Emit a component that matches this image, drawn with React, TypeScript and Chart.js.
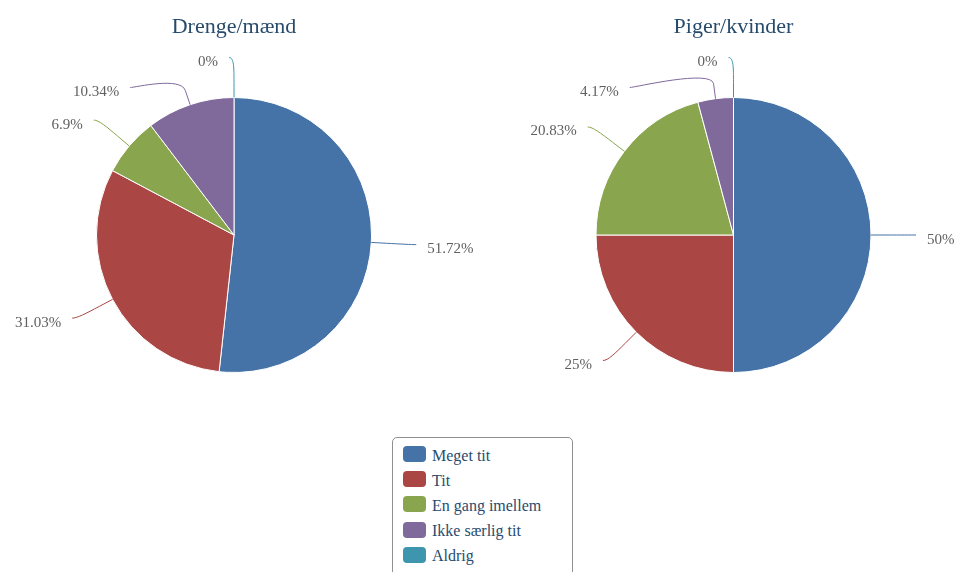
import React, { useEffect, useRef } from "react";
import { Chart, registerables } from "chart.js";

Chart.register(...registerables);

const categories = ["Meget tit", "Tit", "En gang imellem", "Ikke særlig tit", "Aldrig"];
const colors = ["#4572A7", "#AA4643", "#89A54E", "#80699B", "#3D96AE"];
const boysValues = [51.72, 31.03, 6.9, 10.34, 0];
const girlsValues = [50, 25, 20.83, 4.17, 0];
const boysLabels = ["51.72%", "31.03%", "6.9%", "10.34%", "0%"];
const girlsLabels = ["50%", "25%", "20.83%", "4.17%", "0%"];
const chartTitles = ["Drenge/mænd", "Piger/kvinder"];

const FONT = '"Liberation Serif", "Times New Roman", serif';
const TITLE_COLOR = "#274b6d";
const LABEL_COLOR = "#606060";

function makeLabelPlugin(labels: string[], title: string) {
  return {
    id: "pieLabels",
    afterDatasetsDraw(chart: any) {
      const ctx = chart.ctx;
      const meta = chart.getDatasetMeta(0);
      const bg = chart.data.datasets[0].backgroundColor as string[];
      const dist = 40;
      const spacing = 30;
      const breakOff = 15;
      const items = meta.data.map((arc: any, i: number) => {
        const p = arc.getProps(["x", "y", "startAngle", "endAngle", "outerRadius"], true);
        const mid = (p.startAngle + p.endAngle) / 2;
        const fromTop = mid + Math.PI / 2;
        const left = fromTop > Math.PI;
        const R = p.outerRadius + dist;
        return {
          i,
          cx: p.x,
          cy: p.y,
          r: p.outerRadius,
          R,
          cos: Math.cos(mid),
          sin: Math.sin(mid),
          left,
          y: p.y + Math.sin(mid) * R,
        };
      });
      for (const side of [true, false]) {
        const group = items.filter((it: any) => it.left === side).sort((a: any, b: any) => a.y - b.y);
        for (let k = 1; k < group.length; k++) {
          if (group[k].y < group[k - 1].y + spacing) group[k].y = group[k - 1].y + spacing;
        }
      }
      ctx.save();
      for (const it of items) {
        const dy = Math.max(-it.R, Math.min(it.R, it.y - it.cy));
        const sign = it.left ? -1 : 1;
        const bx = it.cx + sign * Math.sqrt(it.R * it.R - dy * dy);
        const x0 = bx + sign * 5;
        const x3 = it.cx + it.cos * it.r;
        const y3 = it.cy + it.sin * it.r;
        const x2 = it.cx + it.cos * (it.r + breakOff);
        const y2 = it.cy + it.sin * (it.r + breakOff);
        ctx.beginPath();
        ctx.moveTo(x0, it.y);
        ctx.bezierCurveTo(bx, it.y, 2 * x2 - x3, 2 * y2 - y3, x2, y2);
        ctx.lineTo(x3, y3);
        ctx.strokeStyle = bg[it.i];
        ctx.lineWidth = 1;
        ctx.stroke();
        ctx.font = `15px ${FONT}`;
        ctx.fillStyle = LABEL_COLOR;
        ctx.textBaseline = "alphabetic";
        ctx.textAlign = it.left ? "right" : "left";
        ctx.fillText(labels[it.i], x0 + sign * 11, it.y + 8.5);
      }
      if (items.length) {
        ctx.font = `22px ${FONT}`;
        ctx.fillStyle = TITLE_COLOR;
        ctx.textAlign = "center";
        ctx.textBaseline = "alphabetic";
        ctx.fillText(title, items[0].cx, 32.5);
      }
      ctx.restore();
    },
  };
}

type PieProps = {
  values: number[];
  labels: string[];
  title: string;
  left: number;
  padding: { left: number; right: number; top: number; bottom: number };
};

function Pie({ values, labels, title, left, padding }: PieProps) {
  const ref = useRef<HTMLCanvasElement | null>(null);
  useEffect(() => {
    if (!ref.current) return;
    const chart = new Chart(ref.current, {
      type: "pie",
      data: {
        labels: categories,
        datasets: [
          {
            data: values,
            backgroundColor: colors,
            borderColor: "#ffffff",
            borderWidth: 1,
            hoverOffset: 0,
          },
        ],
      },
      options: {
        responsive: false,
        animation: false,
        events: [],
        layout: { padding },
        plugins: {
          legend: { display: false },
          tooltip: { enabled: false },
          title: { display: false },
        },
      },
      plugins: [makeLabelPlugin(labels, title)],
    } as any);
    return () => chart.destroy();
  }, []);
  return (
    <canvas
      ref={ref}
      width={479}
      height={430}
      style={{ position: "absolute", left, top: 0, width: 479, height: 430 }}
    />
  );
}

function Legend() {
  return (
    <div
      style={{
        position: "absolute",
        left: 391.5,
        top: 436.5,
        width: 181,
        height: 160,
        boxSizing: "border-box",
        border: "1px solid #909090",
        borderRadius: 5,
        background: "#ffffff",
      }}
    >
      {categories.map((c, i) => (
        <div key={c}>
          <div
            style={{
              position: "absolute",
              left: 10.5,
              top: 8.5 + i * 25.2,
              width: 23,
              height: 16,
              borderRadius: 4,
              background: colors[i],
            }}
          />
          <div
            style={{
              position: "absolute",
              left: 39.5,
              top: 10 + i * 25.2,
              font: `16px ${FONT}`,
              lineHeight: "16px",
              color: TITLE_COLOR,
              whiteSpace: "nowrap",
            }}
          >
            {c}
          </div>
        </div>
      ))}
    </div>
  );
}

export default function App() {
  return (
    <div
      style={{
        position: "absolute",
        left: 0,
        top: 0,
        width: 958,
        height: 572,
        overflow: "hidden",
        background: "#ffffff",
      }}
    >
      <Pie
        values={boysValues}
        labels={boysLabels}
        title={chartTitles[0]}
        left={0}
        padding={{ left: 96, right: 107, top: 97, bottom: 57 }}
      />
      <Pie
        values={girlsValues}
        labels={girlsLabels}
        title={chartTitles[1]}
        left={479}
        padding={{ left: 116.5, right: 86.5, top: 97, bottom: 57 }}
      />
      <Legend />
    </div>
  );
}
